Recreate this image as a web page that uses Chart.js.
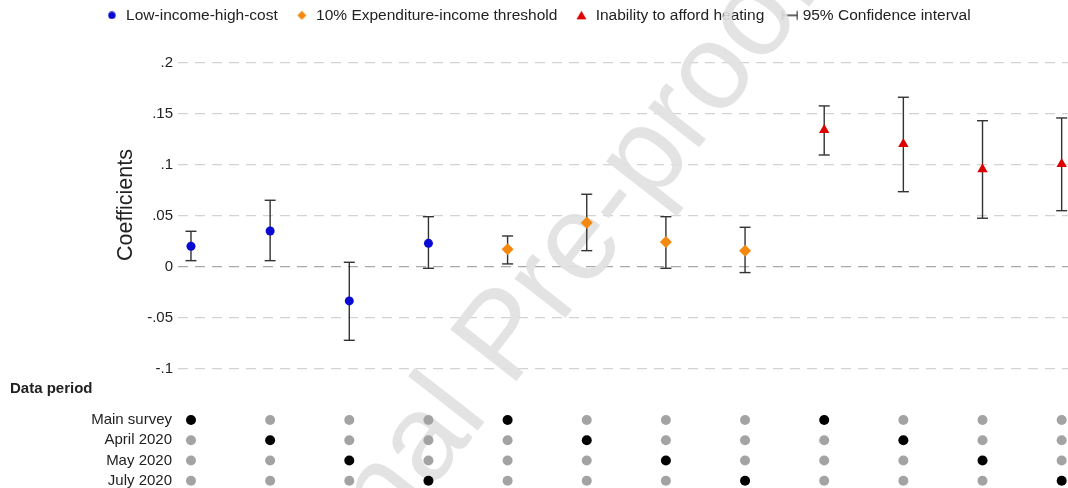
<!DOCTYPE html>
<html>
<head>
<meta charset="utf-8">
<script src="https://cdn.jsdelivr.net/npm/chart.js@4/dist/chart.umd.min.js"></script>
<style>
  html, body { margin: 0; padding: 0; background: #fff; }
  #wrap { width: 1068px; height: 488px; position: relative; }
</style>
</head>
<body>
<div id="wrap"><canvas id="chart"></canvas></div>
<script>
// ---- data -------------------------------------------------------------
const periods = ['Main survey', 'April 2020', 'May 2020', 'July 2020'];
// which data period each of the 12 model columns uses
const modelPeriod = [0, 1, 2, 3, 0, 1, 2, 3, 0, 1, 2, 3];

const lihcX = [0, 1, 2, 3];
const lihcCoef = [0.0198, 0.0348, -0.0338, 0.0227];
const lihcLow = [0.0057, 0.0057, -0.0724, -0.0018];
const lihcHigh = [0.0345, 0.0649, 0.0041, 0.0488];

const thresholdX = [4, 5, 6, 7];
const thresholdCoef = [0.0169, 0.0429, 0.0240, 0.0155];
const thresholdLow = [0.0025, 0.0155, -0.0018, -0.0060];
const thresholdHigh = [0.0299, 0.0708, 0.0488, 0.0384];

const heatingX = [8, 9, 10, 11];
const heatingCoef = [0.1338, 0.1200, 0.0953, 0.1005];
const heatingLow = [0.1093, 0.0733, 0.0473, 0.0547];
const heatingHigh = [0.1574, 0.1659, 0.1429, 0.1456];

const yTicks = [-0.1, -0.05, 0, 0.05, 0.1, 0.15, 0.2];
const yTickLabels = ['-.1', '-.05', '0', '.05', '.1', '.15', '.2'];

const yTitle = 'Coefficients';
const periodHeading = 'Data period';
const stampText = 'Journal Pre-proof';

// ---- colours ------------------------------------------------------------
const BLUE = '#0a0ad2';
const ORANGE = '#f5890f';
const RED = '#dd0000';
const WHISKER = '#333333';

// ---- helpers ------------------------------------------------------------
const points = (xs, ys) => xs.map((x, i) => ({ x, y: ys[i] }));

// whisker segments: low/high pairs separated by gaps
function intervalPoints() {
  const out = [];
  const add = (xs, lo, hi) => xs.forEach((x, i) => {
    out.push({ x, y: lo[i] }, { x, y: hi[i] }, { x, y: null });
  });
  add(lihcX, lihcLow, lihcHigh);
  add(thresholdX, thresholdLow, thresholdHigh);
  add(heatingX, heatingLow, heatingHigh);
  return out;
}

const periodDots = [];
const periodColors = [];
modelPeriod.forEach((p, col) => {
  periods.forEach((_, row) => {
    periodDots.push({ x: col, y: row });
    periodColors.push(p === row ? '#000000' : '#a3a3a3');
  });
});

// small canvases used as legend symbols
function icon(w, h, paint) {
  const c = document.createElement('canvas');
  c.width = w; c.height = h;
  paint(c.getContext('2d'), w, h);
  return c;
}
const legendIcons = [
  icon(8, 8, (g) => { g.fillStyle = BLUE; g.beginPath(); g.arc(4, 4, 3.7, 0, Math.PI * 2); g.fill(); }),
  icon(10, 10, (g) => { g.fillStyle = ORANGE; g.beginPath(); g.moveTo(5, 0.5); g.lineTo(9.5, 5); g.lineTo(5, 9.5); g.lineTo(0.5, 5); g.closePath(); g.fill(); }),
  icon(11, 10, (g) => { g.fillStyle = RED; g.beginPath(); g.moveTo(5.5, 0.5); g.lineTo(10.5, 9); g.lineTo(0.5, 9); g.closePath(); g.fill(); }),
  // interval symbol, drawn in the right part of a wider canvas for extra gap before it
  icon(20, 12, (g) => {
    g.strokeStyle = WHISKER; g.lineWidth = 1.4; g.beginPath();
    g.moveTo(4, 6); g.lineTo(19, 6);
    g.moveTo(4, 1.5); g.lineTo(4, 10.5);
    g.moveTo(19, 1.5); g.lineTo(19, 10.5);
    g.stroke();
  })
];

const FONT = '"Liberation Sans", Arial, Helvetica, sans-serif';
Chart.defaults.font.family = FONT;
Chart.defaults.color = '#222';

// axis title and the data-period row labels
const sideText = {
  id: 'sideText',
  afterDraw(chart) {
    const { ctx, chartArea } = chart;
    const rows = chart.scales.yRows;
    const y = chart.scales.y;
    ctx.save();
    ctx.fillStyle = '#222';
    ctx.textBaseline = 'middle';

    ctx.save();
    ctx.translate(126, (y.getPixelForValue(0.2) + y.getPixelForValue(-0.1)) / 2 - 10.5);
    ctx.rotate(-Math.PI / 2);
    ctx.textAlign = 'center';
    ctx.font = '21.5px ' + FONT;
    ctx.fillText(yTitle, 0, 0);
    ctx.restore();

    ctx.font = 'bold 15px ' + FONT;
    ctx.textAlign = 'left';
    ctx.fillText(periodHeading, 10, 389);
    ctx.font = '15px ' + FONT;
    ctx.textAlign = 'right';
    periods.forEach((name, i) => {
      ctx.fillText(name, chartArea.left - 6, rows.getPixelForValue(i));
    });
    ctx.restore();
  }
};

// diagonal stamp over the grid, beneath the plotted marks
const stamp = {
  id: 'stamp',
  beforeDatasetsDraw(chart) {
    const { ctx } = chart;
    ctx.save();
    ctx.translate(243, 731);
    ctx.rotate(-52 * Math.PI / 180);
    ctx.font = '122px ' + FONT;
    ctx.fillStyle = 'rgba(224,224,224,0.9)';
    ctx.textBaseline = 'alphabetic';
    ctx.textAlign = 'left';
    ctx.fillText(stampText, 0, 0);
    ctx.restore();
  }
};

new Chart(document.getElementById('chart'), {
  type: 'scatter',
  data: {
    datasets: [
      {
        label: 'Low-income-high-cost',
        data: points(lihcX, lihcCoef),
        pointStyle: 'circle', pointRadius: 4.5, pointBorderWidth: 0,
        backgroundColor: BLUE, borderColor: BLUE,
        order: 0
      },
      {
        label: '10% Expenditure-income threshold',
        data: points(thresholdX, thresholdCoef),
        pointStyle: 'rectRot', pointRadius: 6, pointBorderWidth: 0,
        backgroundColor: ORANGE, borderColor: ORANGE,
        order: 0
      },
      {
        label: 'Inability to afford heating',
        data: points(heatingX, heatingCoef),
        pointStyle: 'triangle', pointRadius: 6, pointBorderWidth: 0,
        backgroundColor: RED, borderColor: RED,
        order: 0
      },
      {
        label: '95% Confidence interval',
        data: intervalPoints(),
        showLine: true, spanGaps: false,
        borderColor: WHISKER, borderWidth: 1.4,
        pointStyle: 'line', pointRadius: 5.5, pointBorderWidth: 1.4,
        pointBorderColor: WHISKER, backgroundColor: WHISKER,
        order: 1
      },
      {
        label: periodHeading,
        data: periodDots,
        yAxisID: 'yRows',
        pointStyle: 'circle', pointRadius: 5, pointBorderWidth: 0,
        pointBackgroundColor: periodColors,
        order: 2
      }
    ]
  },
  options: {
    responsive: true,
    maintainAspectRatio: false,
    animation: false,
    layout: { autoPadding: false, padding: { top: -10, left: 8, right: 0, bottom: 0 } },
    plugins: {
      tooltip: { enabled: false },
      legend: {
        position: 'top',
        align: 'center',
        labels: {
          usePointStyle: true,
          boxWidth: 13,
          boxHeight: 6,
          padding: 17.6,
          color: '#222',
          font: { size: 15.5 },
          filter: item => item.datasetIndex < 4,
          generateLabels(chart) {
            const items = Chart.defaults.plugins.legend.labels.generateLabels(chart);
            items.forEach(it => {
              if (legendIcons[it.datasetIndex]) it.pointStyle = legendIcons[it.datasetIndex];
            });
            return items;
          }
        }
      }
    },
    scales: {
      x: {
        type: 'linear',
        display: false,
        min: -0.164,
        max: 11.08
      },
      y: {
        type: 'linear',
        position: 'left',
        min: -0.2172,
        max: 0.2288,
        afterBuildTicks: s => { s.ticks = yTicks.map(v => ({ value: v })); },
        afterFit: s => { s.width = 170; s.paddingTop = 0; s.paddingBottom = 0; },
        ticks: {
          padding: 5,
          color: '#222',
          font: { size: 15 },
          callback: (v, i) => yTickLabels[i]
        },
        grid: {
          drawTicks: false,
          lineWidth: 1.3,
          color: c => (c.tick && c.tick.value === 0) ? '#a9a9a9' : '#d3d3d3'
        },
        border: { display: false, dash: [10, 7] }
      },
      yRows: {
        type: 'linear',
        axis: 'y',
        position: 'left',
        display: false,
        reverse: true,
        min: -19.106,
        max: 3.358
      }
    }
  },
  plugins: [sideText, stamp]
});
</script>
</body>
</html>
